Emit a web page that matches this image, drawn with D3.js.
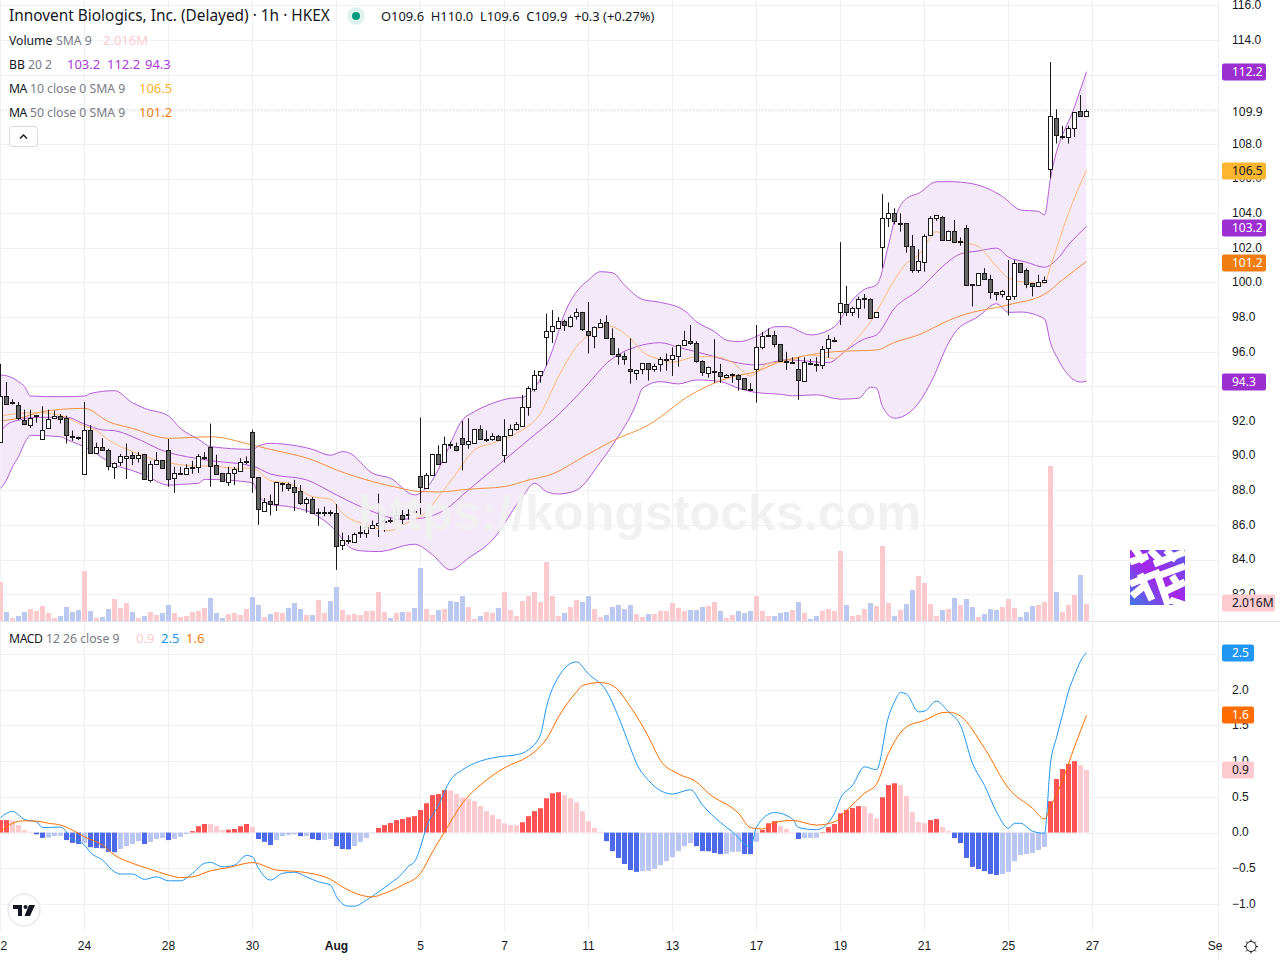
<!DOCTYPE html>
<html>
<head>
<meta charset="utf-8">
<title>Innovent Biologics 1h</title>
<script src="https://cdn.jsdelivr.net/npm/d3@7"></script>
<style>
  html, body { margin: 0; padding: 0; background: #fff; }
  svg { display: block; font-family: "Noto Sans", sans-serif; }
  .axis text { fill: #131722; font-size: 12px; }
  .axis .domain { display: none; }
  .axis line { stroke: #f0f1f4; }
  .leg { font-size: 12.2px; fill: #787b86; }
</style>
</head>
<body>
<div id="chart"></div>
<script>
/* Hourly candles with BB, MA, volume and a MACD pane. */

var opens = [90.8,93.44,93.05,92.9,92.05,91.8,92.28,91,91.6,92.2,92.3,92.2,91.15,91.07,88.9,91.5,90.15,90.5,90.3,89.35,89.6,89.9,90.05,89.9,90.1,88.6,89.5,89.75,90.35,88.7,88.93,88.95,89.33,89.3,89.88,90.5,89.45,89,88.5,88.95,89.15,89.63,91.35,88.75,86.8,87.35,87.2,88.38,88.35,88.2,87.95,87.25,87.5,86.73,86.73,86.72,86.7,84.8,85.08,85.05,85.53,85.55,85.85,86,86.18,86.27,86.3,86.55,86.55,86.82,88.8,88.15,88.9,90.1,89.6,90.67,90.55,91,90.65,90.75,91.55,90.93,90.95,91.15,90.05,91.15,91.52,91.71,92.79,93.83,94.64,96.83,97.17,97.4,97.75,97.52,98.02,98.27,97.17,96.89,97.4,97.69,96.77,95.85,95.73,95,94.81,95,95.33,95.04,95.27,95.52,95.56,95.79,96.4,96.6,96.48,95.44,94.81,94.85,94.81,94.58,94.65,94.67,94.46,93.87,94.98,96.25,96.94,96.94,96.43,95.45,95.35,94.99,94.27,95.32,95.29,95.22,96.2,96.64,98.27,98.74,98.26,98.5,99.04,99.03,97.97,102,103.7,103.99,103.39,103.41,102.08,100.68,101.2,102.7,103.68,103.79,102.49,102.99,102.35,103.12,99.9,99.84,100.54,100.19,99.44,99.32,99.04,99.21,101.11,100.69,99.96,99.77,100.02,106.54,109.48,108.44,108.38,108.9,109.88,109.6];
var highs = [95.3,94.25,93.25,93.1,92.65,92.65,92.32,92.85,92.65,92.6,92.4,92.3,91.45,91.1,93.1,91.75,90.75,91,90.4,89.6,90.1,90.7,90.2,90.2,90.1,89.7,90.2,89.75,90.95,89.35,89.35,89.5,89.7,90.1,90.2,91.85,90.05,89,89.35,89.35,89.85,89.95,91.5,88.75,87.55,87.75,88.45,88.44,88.44,88.6,88.3,87.6,87.6,86.95,87.05,86.85,87.2,85.55,85.4,85.55,85.95,86.2,86.25,87.8,86.6,86.4,86.95,86.85,86.9,86.9,92.2,89,90.1,90.6,91.1,90.8,90.75,92,92.15,91.55,91.75,91.45,91.3,91.2,92.1,91.8,91.95,93.5,94,94.94,94.87,98.2,98.4,98,97.85,98.1,98.5,98.3,98.87,97.45,97.9,98.1,97.35,96.2,95.95,96.77,94.96,95.33,95.33,95.3,95.7,95.9,96.25,96.4,97.2,97.54,96.6,95.5,95.14,96.73,95.3,94.7,94.75,94.7,94.46,94.18,97.54,97.15,97.35,97.2,96.45,95.99,95.68,95.68,95.68,95.58,95.68,96.33,96.97,96.83,102.33,99.8,98.6,99.18,99.33,99.08,98.27,105.1,104.62,104.28,103.99,103.41,102.74,101.91,102.78,103.83,103.87,103.83,102.99,103.6,102.6,103.31,99.9,100.54,100.82,100.44,99.44,99.57,101.3,101.3,101.11,100.82,99.96,100.44,100.34,112.73,110,109.04,109.04,109.82,110.82,110];
var lows = [90.8,92.96,92.95,92.05,91.8,91.6,91.9,90.95,91.55,92.2,91.85,90.7,90.85,90.9,88.9,90.15,90.15,90.3,89.15,88.65,89.4,88.65,89.45,89.6,88.65,88.45,89.5,89.3,88.2,87.85,88.9,88.9,88.95,89,89.75,88.2,88.95,88.5,88.25,88.3,89.15,89.5,87.85,86,86.75,86.55,86.8,87.92,87.95,86.8,87.15,86.7,86.65,85.95,86.5,86.5,83.4,84.55,84.9,85,85.25,85.25,85.8,85.3,85.6,86.1,86.2,86.05,86.3,86.65,86.6,88.15,88.9,89.55,89.6,90.4,90.25,89.15,90.4,90.75,91,90.8,90.85,90.9,89.6,91.15,91.45,91.7,92.3,93.7,94.2,95.2,96.5,97.4,97.2,97.4,97.85,97.2,95.9,96.2,97.4,96.8,95.8,95.25,95.25,94.15,94.37,94.7,94.33,94.85,94.85,94.9,94.6,95.14,96.4,96.4,95.37,94.6,94.5,94.2,94.2,94.55,94.2,93.75,93.83,93.83,93.06,96.14,96.87,96.25,95.43,94.95,95.3,93.22,94.27,95.24,94.85,95,95.66,96.62,97.54,98.06,98.06,97.95,98.49,97.91,97.97,100.85,103.2,103.35,102.93,101.72,100.56,100.56,100.62,102.7,103.56,102.41,102.49,102.37,102.12,99.8,98.61,99.84,100.19,99.05,98.96,99.13,98.09,99,100.59,99.67,99.19,99.73,99.96,106.02,108.02,108.27,108.02,108.4,109.59,109.6];
var closes = [93.44,92.96,93.12,92.15,91.8,92.2,92.32,91.5,92.1,92.3,92.15,91.2,91.08,91.02,91.45,90.15,90.5,90.3,89.35,89.6,89.95,90,89.9,90.05,88.65,89.5,89.75,89.3,88.65,89,88.97,89.3,89.37,89.95,89.92,89.4,88.95,88.55,89,89.2,89.65,89.67,88.75,86.9,87.3,87.2,88.45,88.42,88.1,87.9,87.25,87.5,86.7,86.77,86.77,86.68,84.8,85.1,85.12,85.5,85.57,85.9,86,86.1,86.22,86.23,86.55,86.3,86.6,86.78,88.15,88.9,90.1,89.55,90.65,90.63,90.3,90.65,90.85,91.55,91,90.97,91.15,90.9,91.15,91.52,91.83,92.79,93.89,94.64,94.87,97.17,97.46,97.79,97.52,98.02,98.27,97.29,96.94,97.4,97.64,96.77,95.83,95.71,95.56,94.87,94.96,95.33,94.98,95.2,95.56,95.56,95.79,96.4,96.66,96.5,95.44,94.81,95.14,94.89,94.58,94.67,94.69,94.46,93.83,93.83,96.25,96.89,96.98,96.42,95.43,95.41,95.39,94.33,95.39,95.27,95.25,96.14,96.72,96.68,98.8,98.26,98.5,99.03,99.08,97.93,98.27,103.7,103.99,103.5,103.43,102.06,100.68,101.22,102.7,103.7,103.87,102.49,102.99,102.37,102.39,99.85,99.86,100.54,100.19,99.44,99.3,99.5,99.21,101.11,100.59,99.9,99.77,100.02,100.13,109.59,108.5,108.48,108.9,109.82,109.6,109.9];

// volume in millions
var volumes = [4.62,1.07,.36,.59,1.07,1.42,1.19,1.78,.95,.36,.59,1.66,1.07,1.3,5.93,1.19,.36,.47,1.42,2.61,1.54,2.13,1.07,.36,.59,1.07,.71,.95,1.9,.95,.47,.59,1.07,1.19,1.54,2.73,.95,.36,.83,.95,.71,1.42,2.84,1.9,.47,.83,1.07,.95,1.54,2.13,1.42,.71,.71,2.49,.95,2.37,4.03,1.3,.71,.83,.71,1.19,1.19,3.44,1.07,.36,.95,1.07,1.07,1.54,6.28,1.42,.71,1.3,1.42,2.37,2.25,2.96,1.66,.24,.59,1.07,.95,1.54,3.44,1.3,.59,2.37,2.96,3.44,2.25,6.99,2.96,.59,.95,1.66,2.49,2.25,2.96,1.42,.47,.71,1.66,1.9,1.42,1.9,.83,.47,.83,.83,1.19,1.19,2.13,1.54,1.19,1.3,1.3,1.66,1.78,2.25,1.19,.36,.71,1.19,.95,1.19,2.96,1.19,.59,.59,.95,1.07,1.3,2.25,.95,.24,.59,1.19,1.42,1.19,8.3,1.9,.59,.71,1.42,2.13,1.78,8.89,2.13,.59,1.3,2.01,3.67,5.33,4.5,2.01,.59,1.3,1.42,2.73,1.9,2.61,1.66,.47,.83,1.42,1.3,1.66,2.61,1.54,.47,1.07,1.78,1.9,2.25,18.37,3.44,1.07,1.9,3.08,5.45,2.016];

var histogram = [.175,.175,.17,.105,.035,.01,-.025,-.075,-.07,-.05,-.045,-.105,-.145,-.16,-.145,-.205,-.215,-.22,-.27,-.275,-.23,-.19,-.16,-.12,-.16,-.13,-.09,-.075,-.105,-.09,-.06,-.02,.02,.09,.12,.118,.09,.035,.04,.05,.09,.12,.08,-.09,-.13,-.175,-.105,-.05,-.035,-.025,-.05,-.048,-.09,-.105,-.103,-.09,-.19,-.23,-.235,-.19,-.13,-.075,-.007,.065,.105,.135,.175,.19,.215,.23,.315,.41,.525,.54,.595,.59,.54,.495,.47,.44,.37,.3,.245,.19,.13,.105,.103,.145,.23,.3,.34,.48,.55,.565,.525,.48,.425,.3,.16,.063,.012,-.12,-.26,-.355,-.44,-.525,-.55,-.54,-.535,-.51,-.455,-.4,-.345,-.26,-.19,-.147,-.19,-.26,-.262,-.285,-.3,-.298,-.27,-.268,-.3,-.302,-.13,.035,.13,.16,.09,.05,.007,-.09,-.077,-.075,-.074,.007,.077,.12,.27,.315,.345,.37,.368,.27,.2,.495,.665,.69,.665,.51,.287,.147,.133,.175,.19,.077,.02,-.077,-.147,-.355,-.48,-.51,-.54,-.58,-.595,-.58,-.55,-.4,-.315,-.3,-.285,-.245,-.2,.44,.75,.89,.96,1,.945,.875];

// overlay lines, read at the bars where they bend
var upperBars = [0,1,3,4,5,10,14,15,19,22,24,28,30,33,35,42,43,45,47,52,55,57,58,62,65,69,72,74,77,79,82,85,87,89,92,94,96,98,100,102,104,107,110,114,116,119,121,123,127,129,131,135,139,142,144,146,148,149,151,153,156,158,160,164,167,170,173,174,175,179,181];
var upperVals = [94.65,94.61,94.27,93.98,93.44,93.4,93.44,93.59,93.75,93.05,92.73,92.29,91.57,90.94,90.52,90.36,90.55,90.71,90.67,90.36,90.02,90.23,90.17,88.98,88.69,87.73,88.59,89.94,92.06,92.54,93.02,93.31,93.37,93.9,96.1,98.2,99.46,100.14,100.62,100.56,99.85,99.02,98.85,98.37,97.73,97.16,96.67,96.58,97.06,97.44,97.45,96.97,97.45,98.99,99.6,99.85,102.16,103.6,104.85,105.14,105.81,105.82,105.79,105.5,104.96,104.19,104.1,103.9,106.02,110.15,112.17];
var lowerBars = [0,1,2,3,4,5,10,11,15,19,22,24,28,30,33,34,42,43,45,48,52,56,58,60,63,69,72,75,78,82,87,89,91,93,96,100,102,106,107,110,113,116,120,123,126,130,132,136,140,143,145,146,147,149,152,155,158,159,163,166,168,170,174,175,176,180,181];
var lowerVals = [88.11,88.59,89.36,89.94,90.71,91.17,91.09,90.94,90.32,89.46,89.13,88.88,88.29,88.34,88.4,88.63,88.44,87.73,87.17,87.06,86.67,85.61,84.75,84.5,84.46,84.88,84.27,83.4,84.08,85.13,87.63,88.4,87.92,87.78,88,89.63,90.6,93.02,93.89,94.27,94.14,94.37,94.27,93.89,93.64,93.54,93.45,93.51,93.26,93.31,93.95,93.89,92.83,92.16,92.64,94.18,96.5,97.07,98.04,98.77,98.27,98.29,97.9,96.5,95.73,94.25,94.29];
var basisBars = [0,1,3,6,11,14,17,19,22,28,31,35,42,45,51,56,60,67,70,74,78,84,89,92,98,101,106,110,113,118,122,126,131,138,141,144,146,149,153,157,158,160,163,166,168,171,174,176,178,181];
var basisVals = [91.38,91.77,92.05,92.21,92.21,91.82,91.48,91.44,91.09,90.17,89.94,89.71,89.4,88.94,88.6,87.73,87.06,86.33,86.38,86.86,88.02,89.75,91.2,92.05,94.17,95.33,96.29,96.52,96.25,95.81,95.42,95.23,95.53,95.37,96.1,96.74,96.97,98.51,99.56,100.91,101.21,101.65,101.82,101.98,101.46,101.17,100.88,101.3,102.17,103.23];
var ma10Bars = [0,2,6,8,11,13,14,16,18,20,22,25,28,33,35,39,42,45,48,52,55,57,61,65,67,71,73,76,79,82,86,90,93,96,98,101,105,107,110,112,116,119,122,125,128,131,135,139,142,145,146,149,151,153,156,158,161,163,166,168,171,174,175,178,181];
var ma10Vals = [92.25,92.4,92.48,92.44,92.21,91.86,91.71,91.44,90.9,90.52,90.23,89.84,89.59,89.4,89.4,89.27,89.27,88.55,88.4,87.63,87.48,86.67,86,85.67,86,86.77,87.63,88.98,90.33,90.71,91.29,92.44,94.56,96.29,96.96,97.5,96.77,96,95.56,95.39,95.71,95.71,95.37,94.6,95.33,95.43,95.81,95.62,96.49,97.74,98.31,100.14,101.1,101.58,102.93,102.55,102.27,102.07,100.92,100.25,100,99.96,100.92,104,106.5];
var ma50Bars = [0,3,7,10,14,18,22,28,32,35,42,45,52,56,62,66,70,73,78,84,88,92,97,102,108,115,122,126,129,134,139,146,149,153,158,160,168,174,177,181];
var ma50Vals = [92,92.15,92.54,92.67,92.73,91.96,91.57,91,91.05,91.09,90.61,90.36,89.75,89.17,88.5,88.17,87.92,87.9,88.06,88.21,88.59,88.94,89.9,90.85,91.77,93.5,94.56,94.85,95.3,95.76,96,96.1,96.54,96.97,97.8,98.07,98.71,99.32,100.15,101.21];
var macdBars = [0,2,4,6,7,10,12,14,15,17,19,20,22,24,26,28,30,32,34,35,37,39,41,42,43,45,47,49,51,53,55,56,58,59,61,63,65,67,68,69,70,71,73,75,77,79,83,86,88,90,91,93,96,98,101,103,105,106,108,112,115,117,120,122,125,126,129,132,133,136,139,140,142,144,146,148,149,150,151,153,154,156,158,160,162,164,166,168,169,170,172,174,175,176,177,178,179,180,181];
var macdVals = [.21,.296,.184,.15,.07,.077,-.095,-.175,-.28,-.385,-.55,-.58,-.58,-.655,-.62,-.675,-.675,-.57,-.43,-.417,-.48,-.455,-.32,-.34,-.5,-.665,-.57,-.555,-.62,-.69,-.735,-.9,-1.03,-1.03,-.945,-.83,-.71,-.57,-.47,-.41,-.2,.08,.385,.735,.88,.97,1.06,1.09,1.16,1.37,1.76,2.18,2.39,2.22,1.98,1.62,1.18,.97,.73,.54,.6,.385,.14,.01,-.2,.08,.28,.19,.07,.04,.27,.48,.66,.92,.88,1.62,1.83,1.96,1.94,1.69,1.7,1.84,1.69,1.5,.97,.66,.29,.06,.13,.13,.02,-.01,.97,1.33,1.65,1.98,2.2,2.4,2.52];
var signalBars = [0,2,4,6,8,10,12,14,17,19,22,25,28,30,32,35,38,41,42,46,50,55,57,60,62,64,67,70,72,74,77,81,85,87,89,91,93,96,97,100,102,105,108,110,113,116,118,123,125,127,129,132,136,139,141,144,146,148,151,154,157,158,160,164,168,172,174,175,177,179,181];
var signalVals = [.01,.13,.165,.16,.13,.105,.035,-.06,-.175,-.315,-.43,-.515,-.595,-.63,-.62,-.535,-.49,-.43,-.42,-.525,-.55,-.655,-.76,-.875,-.9,-.85,-.735,-.57,-.27,.01,.41,.735,.95,1.02,1.13,1.31,1.62,1.97,2.06,2.1,2.06,1.76,1.34,1.01,.82,.71,.55,.27,.07,.05,.14,.17,.105,.15,.31,.55,.68,1.11,1.48,1.57,1.68,1.685,1.63,1.18,.62,.34,.19,.36,.73,1.2,1.64];

// axes
var priceTicks = [82,84,86,88,90,92,94,96,98,100,102,104,106,108,110,112,114,116];
var macdTicks = [-1,-0.5,0,0.5,1,1.5,2,2.5];
var timeBars = [0,14,28,42,56,70,84,98,112,126,140,154,168,182,203];
var timeLabels = ["22","24","28","30","Aug","5","7","11","13","17","19","21","25","27","Sep"];
var lastBar = 181;

var W = 1280, H = 960, axisX = 1218, paneBottom = 621;

var x = d3.scaleLinear().domain([0, lastBar]).range([0, 1086]);
var yPrice = d3.scaleLinear().domain([84, 114]).range([559.5, 40]);
var yVol = d3.scaleLinear().domain([0, 18.37]).range([paneBottom, 466]);
var yMacd = d3.scaleLinear().domain([-1, 2.5]).range([904, 654]);

var svg = d3.select("#chart").append("svg").attr("width", W).attr("height", H);
var defs = svg.append("defs");
defs.append("clipPath").attr("id", "plot").append("rect").attr("width", axisX).attr("height", H);
defs.append("clipPath").attr("id", "sep").append("rect").attr("width", 1222).attr("height", H);
var logoGrad = defs.append("linearGradient").attr("id", "logoGrad")
  .attr("x1", 0).attr("y1", 1).attr("x2", 1).attr("y2", 0);
logoGrad.append("stop").attr("offset", "0").attr("stop-color", "#3f78e6");
logoGrad.append("stop").attr("offset", "0.5").attr("stop-color", "#a624ea");
logoGrad.append("stop").attr("offset", "1").attr("stop-color", "#5a5ce8");

// grid
var grid = svg.append("g").attr("stroke", "#f0f1f4").attr("stroke-width", 1);
grid.selectAll("line.t").data(timeBars).enter().append("line").attr("class", "t")
  .attr("x1", function (d) { return x(d) + 0.5; }).attr("x2", function (d) { return x(d) + 0.5; })
  .attr("y1", 0).attr("y2", 932);
grid.selectAll("line.p").data(priceTicks).enter().append("line").attr("class", "p")
  .attr("x1", 0).attr("x2", axisX)
  .attr("y1", function (d) { return Math.round(yPrice(d)) + 0.5; })
  .attr("y2", function (d) { return Math.round(yPrice(d)) + 0.5; });
grid.selectAll("line.m").data(macdTicks).enter().append("line").attr("class", "m")
  .attr("x1", 0).attr("x2", axisX)
  .attr("y1", function (d) { return Math.round(yMacd(d)) + 0.5; })
  .attr("y2", function (d) { return Math.round(yMacd(d)) + 0.5; });

// logo top of the volume area
var logo = svg.append("g").attr("transform", "translate(1130,550)");
logo.append("rect").attr("width", 55).attr("height", 55).attr("fill", "url(#logoGrad)");
var logoStrokes = ["M4,-2 L14,12 M0,12 L18,6 M20,0 L30,10 M36,0 L46,10 M24,14 L55,2", "M0,34 L30,22 M10,24 L22,50 M2,46 L14,36",
  "M28,26 L55,16 M28,26 L38,55 M34,42 L55,32 M42,26 L50,38 M40,50 L55,55"];
logo.append("path").attr("d", logoStrokes.join(" ")).attr("fill", "none")
  .attr("stroke", "#fff").attr("stroke-width", 7);

// volume
svg.append("g").selectAll("rect").data(volumes).enter().append("rect")
  .attr("x", function (d, i) { return x(i) - 2; })
  .attr("y", function (d) { return yVol(d); })
  .attr("width", 5)
  .attr("height", function (d) { return paneBottom - yVol(d); })
  .attr("fill", function (d, i) { return closes[i] >= opens[i] ? "#fcc9cc" : "#bbc8f1"; });

// bollinger band and moving averages
function series(bars, vals) {
  return bars.map(function (b, i) { return [b, vals[i]]; });
}
var priceLine = d3.line().x(function (d) { return x(d[0]) + 0.5; }).y(function (d) { return yPrice(d[1]); })
  .curve(d3.curveMonotoneX);
var upper = series(upperBars, upperVals), lower = series(lowerBars, lowerVals);
var overlay = svg.append("g").attr("clip-path", "url(#plot)");
overlay.append("path")
  .attr("d", priceLine(upper) + "L" + priceLine(lower.slice().reverse()).slice(1) + "Z")
  .attr("fill", "#f4e9f9");
[[upper, "#b45cd8"], [lower, "#b45cd8"], [series(basisBars, basisVals), "#b45cd8"],
 [series(ma50Bars, ma50Vals), "#f0923a"], [series(ma10Bars, ma10Vals), "#fbbc72"]].forEach(function (s) {
  overlay.append("path").attr("d", priceLine(s[0])).attr("fill", "none")
    .attr("stroke", s[1]).attr("stroke-width", 1);
});

// last price line
svg.append("line").attr("x1", 0).attr("x2", axisX)
  .attr("y1", yPrice(109.9)).attr("y2", yPrice(109.9))
  .attr("stroke", "#d8d8d8").attr("stroke-dasharray", "1,2");

// candles
var candles = svg.append("g").selectAll("g").data(opens).enter().append("g");
candles.append("line")
  .attr("x1", function (d, i) { return x(i) + 0.5; }).attr("x2", function (d, i) { return x(i) + 0.5; })
  .attr("y1", function (d, i) { return yPrice(highs[i]); })
  .attr("y2", function (d, i) { return yPrice(lows[i]); })
  .attr("stroke", "#1a1a1a");
candles.append("rect")
  .attr("x", function (d, i) { return x(i) - 1.5; })
  .attr("y", function (d, i) { return Math.round(yPrice(Math.max(opens[i], closes[i]))) + 0.5; })
  .attr("width", 4)
  .attr("height", function (d, i) {
    return Math.max(1, Math.round(Math.abs(yPrice(opens[i]) - yPrice(closes[i]))));
  })
  .attr("fill", function (d, i) { return closes[i] >= opens[i] ? "#fff" : "#666"; })
  .attr("stroke", "#1a1a1a");

// watermark sits over the candles
svg.append("text").attr("x", 358).attr("y", 530)
  .attr("font-family", "Liberation Sans").attr("font-weight", 700).attr("font-size", 50)
  .attr("textLength", 563).attr("lengthAdjust", "spacingAndGlyphs")
  .attr("fill", "#f0f0f0").attr("fill-opacity", 0.92)
  .text("https://kongstocks.com");

// pane separator and price scale border
svg.append("line").attr("x1", 0).attr("x2", W).attr("y1", 621.5).attr("y2", 621.5).attr("stroke", "#e0e3eb");
svg.append("line").attr("x1", axisX + 0.5).attr("x2", axisX + 0.5).attr("y1", 0).attr("y2", H).attr("stroke", "#eceef3");

// macd pane
svg.append("g").selectAll("rect").data(histogram).enter().append("rect")
  .attr("x", function (d, i) { return x(i) - 2; })
  .attr("y", function (d) { return Math.min(yMacd(d), yMacd(0)); })
  .attr("width", 5)
  .attr("height", function (d) { return Math.abs(yMacd(d) - yMacd(0)); })
  .attr("fill", function (d, i) {
    var prev = i ? histogram[i - 1] : d;
    if (d >= 0) return d >= prev ? "#ff5252" : "#fdcbcf";
    return d < prev ? "#4e68ea" : "#b9c6f3";
  });
var macdLine = d3.line().x(function (d) { return x(d[0]) + 0.5; }).y(function (d) { return yMacd(d[1]); })
  .curve(d3.curveMonotoneX);
svg.append("path").attr("d", macdLine(series(macdBars, macdVals))).attr("fill", "none")
  .attr("stroke", "#2196f3").attr("stroke-width", 1);
svg.append("path").attr("d", macdLine(series(signalBars, signalVals))).attr("fill", "none")
  .attr("stroke", "#ff6d00").attr("stroke-width", 1);

// right hand axes
var fmt = d3.format(".1f");
var axes = [yPrice, yMacd].map(function (scale, k) {
  return svg.append("g").attr("class", "axis").attr("transform", "translate(" + axisX + ",0)")
    .call(d3.axisRight(scale).tickValues(k ? macdTicks : priceTicks).tickSize(3).tickPadding(11).tickFormat(fmt));
});
axes.forEach(function (a) { a.selectAll(".tick text").attr("y", -0.5); });

// time axis
var timeAxis = svg.append("g").attr("class", "axis").attr("transform", "translate(0,932)").attr("clip-path", "url(#sep)")
  .call(d3.axisBottom(x).tickValues(timeBars).tickSize(0).tickPadding(6)
    .tickFormat(function (d, i) { return timeLabels[i]; }));
timeAxis.selectAll(".tick text").attr("y", 9).attr("dy", "0.71em")
  .attr("font-weight", function (d, i) { return timeLabels[i] === "Aug" ? 700 : 400; });

// value tags on the price scale
var tags = [
  { y: yPrice(112.2) + 1, text: "112.2", bg: "#9c2fd0", fg: "#fff", w: 44 },
  { y: yPrice(109.9) + 1, text: "109.9", bg: "#fff", fg: "#131722", w: 44 },
  { y: yPrice(106.5) + 1, text: "106.5", bg: "#fbb52e", fg: "#131722", w: 44 },
  { y: yPrice(103.2) + 0.5, text: "103.2", bg: "#9c2fd0", fg: "#fff", w: 44 },
  { y: yPrice(101.2) + 1, text: "101.2", bg: "#ef7d12", fg: "#fff", w: 44 },
  { y: yPrice(94.3) + 1, text: "94.3", bg: "#9c2fd0", fg: "#fff", w: 44 },
  { y: yVol(2.016) - 0.5, text: "2.016M", bg: "#fdcbcf", fg: "#131722", w: 53 },
  { y: yMacd(2.52), text: "2.5", bg: "#2196f3", fg: "#fff", w: 32 },
  { y: yMacd(1.64), text: "1.6", bg: "#ff6d00", fg: "#fff", w: 32 },
  { y: yMacd(0.875), text: "0.9", bg: "#fdcbcf", fg: "#131722", w: 32 }
];
var tag = svg.append("g").selectAll("g").data(tags).enter().append("g")
  .attr("transform", function (d) { return "translate(1222," + Math.round(d.y) + ")"; });
tag.append("rect").attr("y", -8.5).attr("height", 17).attr("rx", 2)
  .attr("width", function (d) { return d.w; })
  .attr("fill", function (d) { return d.bg; });
tag.append("text").attr("x", 10).attr("dy", "0.34em").attr("font-size", 12)
  .attr("fill", function (d) { return d.fg; })
  .text(function (d) { return d.text; });

// legend, keys are squeezed a little to sit where the reference has them
function legendRow(y, parts) {
  var t = svg.append("text").attr("class", "leg").attr("y", y);
  parts.forEach(function (p) {
    var s = t.append("tspan").attr("x", p[0]).text(p[1]);
    if (p[2]) s.style("fill", p[2]);
    if (p[3]) s.style("font-size", p[3] + "px");
    if (p[4]) s.style("letter-spacing", p[4] + "px");
  });
}
svg.append("text").attr("x", 9).attr("y", 21).attr("font-size", 15.4).attr("fill", "#131722")
  .text("Innovent Biologics, Inc. (Delayed) \u00b7 1h \u00b7 HKEX");
svg.append("circle").attr("cx", 356).attr("cy", 16).attr("r", 9).attr("fill", "#dff3ee");
svg.append("circle").attr("cx", 356).attr("cy", 16).attr("r", 4).attr("fill", "#089981");
svg.append("text").attr("x", 381).attr("y", 21).attr("font-size", 12.9).attr("fill", "#131722")
  .text("O109.6  H110.0  L109.6  C109.9  +0.3 (+0.27%)").attr("xml:space", "preserve");
legendRow(44.5, [[9, "Volume", "#131722"], [56, "SMA 9"], [103, "2.016M", "#fdcbcf", 13]]);
legendRow(68.5, [[9, "BB", "#131722"], [28, "20 2"], [67, "103.2", "#a93bd6", 13], [107, "112.2", "#a93bd6", 13], [145, "94.3", "#a93bd6", 13]]);
legendRow(92.5, [[9, "MA", "#131722", 0, -0.6], [30, "10 close 0 SMA 9"], [139, "106.5", "#fbb02e", 13]]);
legendRow(116.5, [[9, "MA", "#131722", 0, -0.6], [30, "50 close 0 SMA 9"], [139, "101.2", "#ef7d12", 13]]);
legendRow(643, [[9, "MACD", "#131722", 0, -0.4], [46, "12 26 close 9"], [136, "0.9", "#fdcbcf", 13], [161, "2.5", "#2196f3", 13], [186, "1.6", "#ef7d12", 13]]);
svg.append("rect").attr("x", 9.5).attr("y", 126.5).attr("width", 28).attr("height", 20).attr("rx", 3)
  .attr("fill", "#fff").attr("stroke", "#d6d9e4");
svg.append("path").attr("d", "M20,138.5 L23.5,135 L27,138.5").attr("fill", "none")
  .attr("stroke", "#131722").attr("stroke-width", 1.4);

// tv badge
var badge = svg.append("g").attr("transform", "translate(24,910)");
badge.append("circle").attr("r", 16).attr("fill", "#fff").attr("stroke", "#e6e8ee").attr("stroke-width", 1.5);
badge.append("path").attr("d", "M-11,-5 H-2 V6 H-6 V-1 H-11 Z M5,-5 H11 L6,6 H0.5 Z").attr("fill", "#131722");
badge.append("circle").attr("cx", 1.5).attr("cy", -3).attr("r", 2).attr("fill", "#131722");

// gear at the corner of the scales
var gear = svg.append("g").attr("transform", "translate(1251,946.5)").attr("stroke", "#131722").attr("fill", "none");
gear.append("circle").attr("r", 5);
d3.range(8).forEach(function (k) {
  var a = k * Math.PI / 4;
  gear.append("line").attr("x1", Math.cos(a) * 5).attr("y1", Math.sin(a) * 5)
    .attr("x2", Math.cos(a) * 7).attr("y2", Math.sin(a) * 7);
});
</script>
</body>
</html>
